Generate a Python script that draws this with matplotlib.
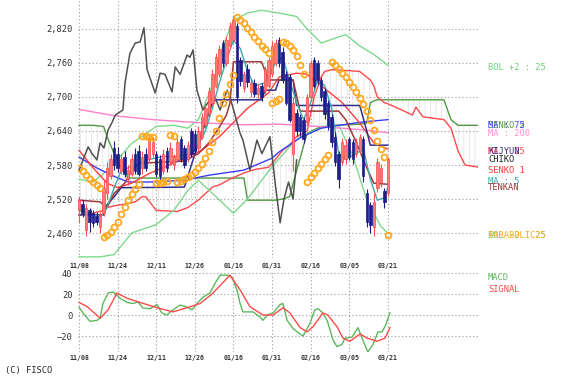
import matplotlib.pyplot as plt
import numpy as np

plt.rcParams['font.family'] = ['DejaVu Sans Mono']
plt.rcParams['hatch.linewidth'] = 0.5

dates = ['11/08', '11/24', '12/11', '12/26', '01/16', '01/31', '02/16', '03/05', '03/21']
date_pos = [0, 11, 22, 33, 44, 55, 66, 77, 88]

# daily candles (index 0 = 11/08)
opens = [2500, 2512, 2465, 2500, 2495, 2490, 2470, 2495, 2530, 2560,
         2610, 2600, 2570, 2595, 2555, 2565, 2600, 2605, 2575, 2600,
         2590, 2600, 2600, 2590, 2570, 2605, 2585, 2580, 2590, 2625,
         2610, 2590, 2640, 2635, 2610, 2630, 2650, 2670, 2690, 2720,
         2740, 2795, 2760, 2790, 2800, 2825, 2765, 2715, 2750, 2708,
         2725, 2705, 2720, 2710, 2720, 2740, 2760, 2800, 2780, 2740,
         2735, 2600, 2672, 2665, 2660, 2655, 2700, 2765, 2760, 2730,
         2710, 2690, 2665, 2630, 2600, 2585, 2590, 2625, 2620, 2600,
         2605, 2625, 2530, 2510, 2470, 2540, 2550, 2535, 2530]
highs = [2525, 2518, 2512, 2505, 2500, 2498, 2498, 2555, 2585, 2600,
         2622, 2612, 2600, 2605, 2580, 2600, 2610, 2615, 2605, 2610,
         2635, 2630, 2605, 2598, 2608, 2612, 2620, 2600, 2628, 2632,
         2615, 2622, 2645, 2642, 2648, 2672, 2690, 2718, 2750, 2778,
         2792, 2800, 2808, 2832, 2842, 2830, 2770, 2745, 2758, 2730,
         2732, 2722, 2725, 2755, 2770, 2798, 2802, 2805, 2788, 2745,
         2740, 2700, 2678, 2670, 2665, 2705, 2765, 2770, 2765, 2735,
         2715, 2695, 2670, 2638, 2605, 2628, 2625, 2630, 2625, 2628,
         2635, 2632, 2538, 2515, 2530, 2592, 2582, 2540, 2595]
lows = [2478, 2488, 2455, 2462, 2470, 2475, 2460, 2490, 2520, 2555,
        2572, 2568, 2565, 2558, 2545, 2560, 2565, 2560, 2565, 2570,
        2585, 2595, 2558, 2552, 2565, 2568, 2580, 2572, 2585, 2585,
        2575, 2585, 2595, 2600, 2605, 2625, 2645, 2665, 2685, 2715,
        2735, 2752, 2755, 2785, 2795, 2690, 2720, 2708, 2718, 2700,
        2700, 2698, 2692, 2705, 2715, 2735, 2755, 2752, 2725, 2685,
        2655, 2570, 2632, 2632, 2618, 2650, 2695, 2715, 2722, 2692,
        2662, 2642, 2612, 2578, 2540, 2580, 2582, 2588, 2582, 2595,
        2600, 2550, 2470, 2460, 2455, 2532, 2542, 2505, 2525]
closes = [2518, 2495, 2505, 2480, 2478, 2480, 2490, 2540, 2575, 2590,
          2580, 2575, 2590, 2565, 2572, 2590, 2570, 2565, 2595, 2575,
          2625, 2620, 2565, 2560, 2600, 2575, 2610, 2595, 2620, 2590,
          2580, 2615, 2600, 2605, 2640, 2665, 2680, 2710, 2740, 2770,
          2785, 2760, 2800, 2825, 2835, 2700, 2728, 2740, 2726, 2725,
          2705, 2715, 2700, 2750, 2765, 2790, 2795, 2760, 2730, 2690,
          2660, 2690, 2640, 2640, 2625, 2700, 2760, 2720, 2730, 2700,
          2670, 2650, 2620, 2585, 2555, 2620, 2615, 2595, 2590, 2620,
          2630, 2560, 2480, 2475, 2515, 2585, 2575, 2515, 2590]

# indicator lines: (index, value)
ma5_x = [0, 3, 6, 8, 10, 12, 16, 20, 24, 28, 32, 34, 36, 38, 40, 42, 44, 46, 48, 50,
         53, 56, 58, 60, 62, 64, 66, 68, 70, 72, 74, 76, 79, 81, 83, 85, 87, 88]
ma5_y = [2500, 2495, 2487, 2505, 2540, 2570, 2580, 2590, 2595, 2595, 2600, 2615, 2640,
         2680, 2725, 2765, 2800, 2785, 2745, 2720, 2725, 2760, 2770, 2730, 2690, 2660,
         2690, 2730, 2720, 2680, 2600, 2590, 2600, 2610, 2555, 2518, 2522, 2540]
ma25_x = [0, 4, 8, 11, 15, 20, 25, 30, 35, 40, 44, 48, 54, 57, 62, 65, 69, 75, 80, 84, 88]
ma25_y = [2606, 2575, 2548, 2540, 2548, 2565, 2578, 2592, 2606, 2630, 2655, 2680, 2707,
          2735, 2742, 2740, 2720, 2690, 2654, 2619, 2608]
ma75_x = [0, 5, 10, 14, 20, 30, 37, 47, 55, 57, 63, 69, 74, 81, 88]
ma75_y = [2594, 2575, 2560, 2550, 2550, 2553, 2562, 2571, 2592, 2603, 2628, 2645, 2650,
          2656, 2660]
ma200_x = [0, 10, 21, 33, 47, 57, 66, 81, 88]
ma200_y = [2678, 2667, 2660, 2655, 2651, 2652, 2649, 2642, 2637]
bol_up_x = [0, 4, 9, 11, 15, 22, 27, 31, 34, 38, 41, 44, 48, 52, 57, 62, 65, 69, 74, 76,
            80, 84, 88]
bol_up_y = [2555, 2550, 2575, 2590, 2618, 2648, 2650, 2645, 2660, 2720, 2790, 2835, 2848,
            2853, 2848, 2842, 2820, 2795, 2806, 2810, 2790, 2775, 2756]
bol_dn_x = [0, 6, 10, 15, 22, 27, 31, 34, 38, 44, 48, 55, 60, 63, 69, 74, 78, 82, 86, 88]
bol_dn_y = [2418, 2418, 2422, 2460, 2475, 2500, 2535, 2553, 2530, 2495, 2520, 2577, 2612,
            2630, 2645, 2650, 2597, 2518, 2472, 2460]
tenkan_x = [0, 6, 8, 10, 13, 15, 17, 30, 34, 37, 40, 42, 43, 44, 52, 54, 61, 63, 74, 76,
            79, 82, 84, 88]
tenkan_y = [2518, 2515, 2505, 2530, 2548, 2570, 2583, 2587, 2600, 2619, 2647, 2668, 2689,
            2762, 2762, 2730, 2730, 2675, 2675, 2660, 2620, 2575, 2548, 2546]
kijun_x = [0, 7, 8, 10, 12, 30, 31, 34, 38, 39, 52, 53, 56, 57, 61, 62, 80, 82, 83, 88]
kijun_y = [2492, 2492, 2510, 2524, 2540, 2541, 2560, 2619, 2689, 2695, 2695, 2712, 2712,
           2730, 2730, 2685, 2685, 2640, 2615, 2615]
chiko_x = [0, 2.6, 3.7, 5.1, 6, 7.1, 8.3, 9.4, 10.3, 12.5, 13.1, 14.5, 16, 17.4, 18.5,
           19.4, 21.7, 23.1, 24.5, 26.5, 27.4, 28.8, 30.8, 31.6, 32.5, 33.6, 35.3, 37.3,
           38.7, 40.2, 42.2, 43, 45.9, 46.7, 48.7, 50.7, 52.1, 54.4, 55.8, 57.3, 58.4,
           59.7, 61, 62]
chiko_y = [2571, 2612, 2600, 2589, 2619, 2610, 2642, 2655, 2668, 2677, 2725, 2777, 2795,
           2797, 2822, 2748, 2707, 2742, 2740, 2709, 2753, 2740, 2774, 2770, 2783, 2712,
           2677, 2695, 2700, 2677, 2712, 2700, 2636, 2624, 2571, 2624, 2600, 2630, 2553,
           2478, 2520, 2550, 2520, 2589]

# ichimoku cloud (senko spans run 26 days ahead)
cloud_x = [0, 4, 7, 8, 10, 12, 14, 16, 18, 19, 22, 28, 31, 34, 38, 40, 43, 47, 48, 50,
           54, 56, 58, 60, 62, 65, 67, 69, 70, 72, 73, 80, 82, 83, 84, 85, 87, 88, 92,
           95, 96, 98, 104, 106, 108, 110, 114]
senko1 = [2492, 2495, 2500, 2505, 2508, 2510, 2512, 2515, 2524, 2524, 2500, 2498, 2505,
          2518, 2541, 2545, 2555, 2566, 2568, 2572, 2576, 2590, 2606, 2615, 2630, 2640,
          2700, 2735, 2745, 2748, 2748, 2745, 2735, 2730, 2720, 2700, 2690, 2688, 2677,
          2668, 2682, 2665, 2660, 2645, 2605, 2580, 2576]
senko2 = [2650, 2650, 2648, 2630, 2600, 2575, 2557, 2557, 2557, 2557, 2557, 2557, 2557,
          2557, 2557, 2557, 2557, 2557, 2518, 2518, 2518, 2518, 2520, 2524, 2570, 2636,
          2642, 2648, 2648, 2649, 2650, 2652, 2654, 2690, 2693, 2695, 2695, 2695, 2695,
          2695, 2695, 2695, 2695, 2660, 2650, 2650, 2650]

# parabolic SAR, one dot per day
sar = [2575, 2569, 2562, 2556, 2550, 2545, 2540,
       2453, 2456, 2462, 2470, 2480, 2493, 2506, 2518, 2528, 2538, 2546,
       2632, 2631, 2630, 2629,
       2548, 2549, 2550, 2551,
       2633, 2631,
       2550, 2552, 2555, 2558, 2562, 2567, 2574, 2582, 2592, 2604, 2620, 2640, 2663,
       2690, 2705, 2722, 2738,
       2841, 2836, 2830, 2822, 2814, 2806, 2798, 2790, 2784, 2778,
       2690, 2693, 2697,
       2797, 2795, 2790, 2783, 2772, 2757, 2740,
       2550, 2558, 2566, 2574, 2582, 2590, 2598,
       2762, 2757, 2750, 2743, 2735, 2727, 2718, 2708, 2698, 2688, 2675, 2660, 2642,
       2622, 2608, 2594,
       2456]

macd_x = [0, 1.1, 3.1, 5.1, 6, 6.8, 8.3, 9.7, 11.7, 13.7, 15.4, 16.8, 18.2, 20.2, 22.2,
          23.6, 25, 26.8, 28.8, 30.5, 32.2, 33.6, 35.3, 37.3, 38.7, 40.2, 42.2, 43.6,
          45, 45.9, 46.7, 49.6, 51.6, 52.4, 53.6, 55.3, 57.3, 58.1, 59.3, 61, 63.8,
          65.8, 67.2, 68.1, 69.2, 70.7, 72.4, 73.5, 74.9, 75.8, 77.8, 79.5, 80.9, 82.3,
          83.8, 85.2, 86.3, 87.2, 88.6]
macd_y = [7.6, 2, -6, -5, -3, 11, 21, 22, 16, 12, 11, 12.4, 6.7, 6, 10, 2, 0, 5, 9.5, 8,
          5, 11, 17, 21, 30, 38, 38, 36, 24, 11, 3, 3, -2, -5, 0, 2, 10, 11, -5, -13, -20,
          -8, 5, 6, 3, -5, -24, -30, -28, -22, -21, -12, -24, -35, -28, -16, -16, -11, 2]
signal_x = [0, 2.3, 6, 8.3, 10.8, 13.7, 17.4, 22.2, 26.8, 30.8, 34.5, 38.2, 43, 45.9,
            48.7, 52.4, 55.3, 58.1, 60.1, 63, 65, 66.7, 69.5, 70.9, 73.5, 75.2, 77.2,
            80.1, 82.1, 84.9, 87.2, 88.6]
signal_y = [12, 8, -3, 5, 21, 16, 12, 7, 3, 7, 11, 21, 38, 24, 8, 0, 0, 7, 2, -12, -16,
            -11, 2, 0, -11, -22, -25, -18, -22, -25, -22, -12]

W, H = 565, 380
fig = plt.figure(figsize=(W / 100, H / 100), dpi=100)
ax = fig.add_axes([78 / W, 1 - 258 / H, 400 / W, 258 / H])
ax2 = fig.add_axes([78 / W, 1 - 352 / H, 400 / W, 82 / H])

grid_kw = dict(color='#9a9a9a', linestyle=(0, (1, 2.2)), linewidth=0.8)
for a in (ax, ax2):
    a.set_xlim(-0.3, 113.7)
    for s in a.spines.values():
        s.set_visible(False)
    a.set_xticks(date_pos)
    a.set_xticklabels(dates, fontsize=4.8, fontweight='bold', color='#333333')
    a.tick_params(length=0, labelsize=6.3, labelcolor='#333333')
    a.tick_params(axis='x', labelsize=4.8)
    a.grid(True, **grid_kw)
    a.set_axisbelow(True)

ax.set_ylim(2416, 2871)
ax.set_yticks([2460, 2520, 2580, 2640, 2700, 2760, 2820])
ax.set_yticklabels(['2,460', '2,520', '2,580', '2,640', '2,700', '2,760', '2,820'])
ax.tick_params(axis='y', pad=4)
ax.tick_params(axis='x', pad=3.5)

# cloud
ax.fill_between(cloud_x, senko1, senko2, facecolor='none', edgecolor='#e0e0e0',
                hatch='|||', linewidth=0, zorder=1)
ax.plot(cloud_x, senko2, color='#4f9a40', lw=1.0, zorder=2)
ax.plot(cloud_x, senko1, color='#ff4a4a', lw=1.0, zorder=2)

ax.plot(bol_up_x, bol_up_y, color='#7ed98c', lw=1.0, zorder=2)
ax.plot(bol_dn_x, bol_dn_y, color='#7ed98c', lw=1.0, zorder=2)
ax.plot(ma200_x, ma200_y, color='#ff80c8', lw=1.0, zorder=2)
ax.plot(ma75_x, ma75_y, color='#3c3cff', lw=1.0, zorder=2)
ax.plot(ma25_x, ma25_y, color='#ff3c3c', lw=1.0, zorder=2)
ax.plot(chiko_x, chiko_y, color='#505050', lw=1.1, zorder=2)
ax.plot(kijun_x, kijun_y, color='#30308c', lw=1.1, zorder=3)
ax.plot(tenkan_x, tenkan_y, color='#a03838', lw=1.1, zorder=3)
ax.plot(ma5_x, ma5_y, color='#40a8a8', lw=1.0, zorder=3)

# candles
idx = np.arange(len(closes))
o = np.array(opens)
c = np.array(closes)
up = c >= o
ax.vlines(idx[up], np.array(lows)[up], np.array(highs)[up], color='#ff5050', lw=0.8, zorder=4)
ax.vlines(idx[~up], np.array(lows)[~up], np.array(highs)[~up], color='#1e1e8a', lw=0.8, zorder=4)
ax.bar(idx[up], (c - o)[up], bottom=o[up], width=0.7, color='#ff7a7a',
       edgecolor='#ff4848', linewidth=0.5, zorder=5)
ax.bar(idx[~up], (c - o)[~up], bottom=o[~up], width=0.7, color='#1e1e8a',
       edgecolor='#1e1e8a', linewidth=0.5, zorder=5)

ax.plot(idx, sar, linestyle='none', marker='o', markersize=4.2, markerfacecolor='none',
        markeredgecolor='#ffa820', markeredgewidth=1.3, zorder=6)

# MACD panel
ax2.set_ylim(-35.2, 42.9)
ax2.set_yticks([-20, 0, 20, 40])
ax2.tick_params(axis='y', pad=4)
ax2.tick_params(axis='x', pad=2)
ax2.plot(macd_x, macd_y, color='#5cb85c', lw=1.0)
ax2.plot(signal_x, signal_y, color='#ff4a4a', lw=1.0)

# labels at right (some overlap, as in the source chart)
def label(txt, y, color):
    fig.text(488 / W, 1 - y / H, txt, color=color, fontsize=6.3, va='center', ha='left')

label('BOL +2 : 25', 67, '#6fd07d')
label('SENKO 2', 126, '#4f9a40')
label('MA : 75', 125, '#4a4aff')
label('MA : 200', 134, '#ff90d0')
label('MA : 25', 151, '#ff4a4a')
label('KIJYUN', 151, '#30308c')
label('CHIKO', 160, '#202020')
label('SENKO 1', 170, '#ff3c3c')
label('MA : 5', 181, '#40a8a8')
label('TENKAN', 187, '#a03838')
label('BOL -2 : 25', 235, '#6fd07d')
label('PARABOLIC25', 235, '#ffa820')
label('MACD', 278, '#5cb85c')
label('SIGNAL', 289, '#ff4a4a')

fig.text(5 / W, 1 - 370 / H, '(C) FISCO', fontsize=6.3, color='#202020', va='center')

fig.savefig('out.png', dpi=100)
